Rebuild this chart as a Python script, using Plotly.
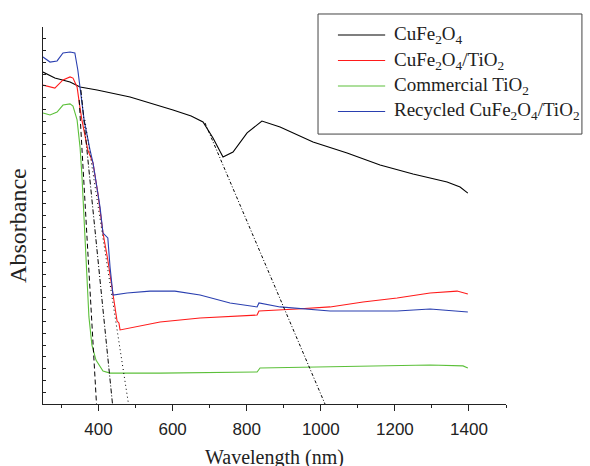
import plotly.graph_objects as go

# ---- data ----
cufe_x = [250, 282, 323, 350, 396, 485, 601, 620, 650, 682, 709, 736, 763, 801, 841, 890, 979, 1071, 1160, 1249, 1341, 1376, 1397]
cufe_y = [1.761, 1.729, 1.708, 1.682, 1.666, 1.629, 1.560, 1.549, 1.528, 1.496, 1.411, 1.310, 1.337, 1.438, 1.501, 1.469, 1.390, 1.332, 1.268, 1.220, 1.178, 1.151, 1.119]

comp_x = [250, 269, 282, 304, 323, 331, 342, 350, 355, 371, 385, 398, 412, 425, 439, 450, 455, 458, 566, 674, 828, 833, 936, 1025, 1114, 1206, 1295, 1368, 1397]
comp_y = [1.692, 1.682, 1.676, 1.719, 1.735, 1.729, 1.682, 1.570, 1.507, 1.347, 1.279, 1.119, 0.907, 0.764, 0.590, 0.440, 0.430, 0.393, 0.435, 0.456, 0.472, 0.493, 0.504, 0.515, 0.541, 0.562, 0.589, 0.599, 0.584]

tio2_x = [250, 269, 288, 304, 323, 331, 342, 350, 355, 366, 374, 382, 393, 412, 431, 566, 828, 836, 1025, 1295, 1384, 1397]
tio2_y = [1.544, 1.533, 1.549, 1.586, 1.592, 1.581, 1.507, 1.363, 1.215, 0.817, 0.462, 0.313, 0.233, 0.175, 0.164, 0.164, 0.170, 0.191, 0.196, 0.207, 0.202, 0.191]

rec_x = [250, 269, 288, 304, 323, 336, 344, 350, 361, 377, 385, 404, 412, 425, 431, 439, 477, 539, 606, 674, 755, 828, 833, 890, 1025, 1206, 1295, 1397]
rec_y = [1.841, 1.814, 1.820, 1.862, 1.867, 1.862, 1.772, 1.682, 1.507, 1.347, 1.279, 1.045, 0.907, 0.881, 0.727, 0.578, 0.589, 0.599, 0.599, 0.578, 0.536, 0.515, 0.536, 0.515, 0.493, 0.493, 0.504, 0.488]

# tangent (band-edge) lines: [x_start, x_end], [y_start, y_end]
tan_tio2_x = [347.7, 394.4]
tan_tio2_y = [1.613, 0.0]
tan_comp_x = [352.3, 437.6]
tan_comp_y = [1.666, 0.0]
tan_rec_x = [363.0, 480.8]
tan_rec_y = [1.507, 0.0]
tan_cufe_x = [687.4, 1011.3]
tan_cufe_y = [1.491, 0.0]

x_ticks = [400, 600, 800, 1000, 1200, 1400]

names = ["CuFe<sub>2</sub>O<sub>4</sub>",
         "CuFe<sub>2</sub>O<sub>4</sub>/TiO<sub>2</sub>",
         "Commercial TiO<sub>2</sub>",
         "Recycled CuFe<sub>2</sub>O<sub>4</sub>/TiO<sub>2</sub>"]
colors = ["#000000", "#ff1a1a", "#5cc03a", "#2a3fb0"]

fig = go.Figure()
for xs, ys, nm, c in [(cufe_x, cufe_y, names[0], colors[0]),
                      (comp_x, comp_y, names[1], colors[1]),
                      (tio2_x, tio2_y, names[2], colors[2]),
                      (rec_x, rec_y, names[3], colors[3])]:
    fig.add_trace(go.Scatter(x=xs, y=ys, mode="lines", name=nm, showlegend=False,
                             line=dict(color=c, width=1.1)))

for xs, ys, d in [(tan_tio2_x, tan_tio2_y, "5px,3px"),
                  (tan_comp_x, tan_comp_y, "5px,2px,1px,2px"),
                  (tan_rec_x, tan_rec_y, "1px,3px"),
                  (tan_cufe_x, tan_cufe_y, "3px,2px,1px,2px")]:
    fig.add_trace(go.Scatter(x=xs, y=ys, mode="lines", showlegend=False,
                             line=dict(color="#000000", width=1, dash=d)))

# ---- legend box drawn in paper coordinates ----
lg_x0, lg_x1, lg_y0, lg_y1 = 0.594, 1.164, 0.716, 1.0345
row_y = [0.9788, 0.9111, 0.8435, 0.7759]
shapes = [dict(type="rect", xref="paper", yref="paper", x0=lg_x0, x1=lg_x1, y0=lg_y0, y1=lg_y1,
               line=dict(color="#444444", width=1), fillcolor="white", layer="above")]
annotations = []
for nm, c, ry in zip(names, colors, row_y):
    shapes.append(dict(type="line", xref="paper", yref="paper", x0=0.637, x1=0.739, y0=ry, y1=ry,
                       line=dict(color=c, width=1.1), layer="above"))
    annotations.append(dict(text=nm, x=0.754, y=ry, xref="paper", yref="paper",
                            xanchor="left", yanchor="middle", showarrow=False,
                            font=dict(family="Liberation Serif", size=19, color="#222222")))

annotations += [
    dict(text="Wavelength (nm)", x=0.5, y=-0.143, xref="paper", yref="paper",
         xanchor="center", yanchor="middle", showarrow=False,
         font=dict(family="Liberation Serif", size=20, color="#222222")),
    dict(text="Absorbance", x=-0.054, y=0.475, xref="paper", yref="paper",
         xanchor="center", yanchor="middle", showarrow=False, textangle=-90,
         font=dict(family="Liberation Serif", size=24, color="#222222")),
]

fig.update_layout(
    width=590, height=466,
    margin=dict(l=43, r=84, t=27, b=62, autoexpand=False),
    plot_bgcolor="white", paper_bgcolor="white",
    showlegend=False,
    shapes=shapes,
    annotations=annotations,
    xaxis=dict(range=[250, 1500], tickvals=x_ticks, ticktext=[str(v) for v in x_ticks],
               showgrid=False, zeroline=False, showline=True, linecolor="#222222", linewidth=1,
               ticks="outside", ticklen=6, tickcolor="#222222", tickwidth=1,
               ticklabelstandoff=4,
               minor=dict(dtick=100, tick0=0, ticks="outside", ticklen=3, tickcolor="#222222", showgrid=False),
               tickfont=dict(family="Liberation Sans", size=17, color="#222222")),
    yaxis=dict(range=[0, 2.0], dtick=0.0625, tick0=0, showticklabels=False,
               showgrid=False, zeroline=False, showline=True, linecolor="#222222", linewidth=1,
               ticks="inside", ticklen=3, tickcolor="#222222", tickwidth=1),
)

fig.write_html("out.html")
